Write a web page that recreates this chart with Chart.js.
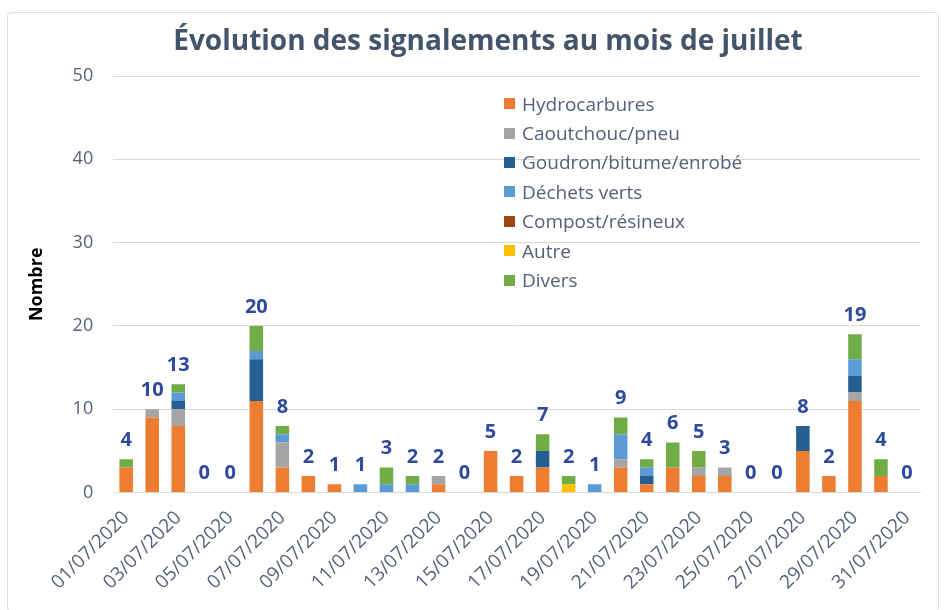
<!DOCTYPE html>
<html>
<head>
<meta charset="utf-8">
<script src="https://cdn.jsdelivr.net/npm/chart.js@4"></script>
<style>
  body { margin: 0; background: #fff; font-family: "Open Sans", sans-serif; }
  #wrap { position: relative; width: 946px; height: 610px; }
  #frame { position: absolute; left: 7px; top: 12px; width: 932px; height: 600px; border: 1px solid #D9DEE6; border-radius: 4px; box-sizing: border-box; }
  #myChart { position: absolute; left: 0; top: 0; }
  #legend { position: absolute; left: 504px; top: 89px; font-size: 19px; color: #56607A; }
  #legend div { height: 29.4px; display: flex; align-items: center; }
  #legend span.box { display: inline-block; width: 11px; height: 11px; margin-right: 7px; }
</style>
</head>
<body>
<div id="wrap">
  <div id="frame"></div>
  <canvas id="myChart" width="946" height="610"></canvas>
  <div id="legend"></div>
</div>
<script>
const dates = ['01/07/2020','02/07/2020','03/07/2020','04/07/2020','05/07/2020','06/07/2020','07/07/2020','08/07/2020',
  '09/07/2020','10/07/2020','11/07/2020','12/07/2020','13/07/2020','14/07/2020','15/07/2020','16/07/2020',
  '17/07/2020','18/07/2020','19/07/2020','20/07/2020','21/07/2020','22/07/2020','23/07/2020','24/07/2020',
  '25/07/2020','26/07/2020','27/07/2020','28/07/2020','29/07/2020','30/07/2020','31/07/2020'];

const hydrocarbures = [3,9,8,0,0,11,3,2,1,0,0,0,1,0,5,2,3,0,0,3,1,3,2,2,0,0,5,2,11,2,0];
const caoutchouc    = [0,1,2,0,0,0,3,0,0,0,0,0,1,0,0,0,0,0,0,1,0,0,1,1,0,0,0,0,1,0,0];
const goudron       = [0,0,1,0,0,5,0,0,0,0,0,0,0,0,0,0,2,0,0,0,1,0,0,0,0,0,3,0,2,0,0];
const dechetsVerts  = [0,0,1,0,0,1,1,0,0,1,1,1,0,0,0,0,0,0,1,3,1,0,0,0,0,0,0,0,2,0,0];
const compost       = [0,0,0,0,0,0,0,0,0,0,0,0,0,0,0,0,0,0,0,0,0,0,0,0,0,0,0,0,0,0,0];
const autre         = [0,0,0,0,0,0,0,0,0,0,0,0,0,0,0,0,0,1,0,0,0,0,0,0,0,0,0,0,0,0,0];
const divers        = [1,0,1,0,0,3,1,0,0,0,2,1,0,0,0,0,2,1,0,2,1,3,2,0,0,0,0,0,3,2,0];

const yTicks = [0, 10, 20, 30, 40, 50];
const chartTitle = 'Évolution des signalements au mois de juillet';

const series = [
  { label: 'Hydrocarbures', data: hydrocarbures, color: '#ED7D31' },
  { label: 'Caoutchouc/pneu', data: caoutchouc, color: '#A5A5A5' },
  { label: 'Goudron/bitume/enrobé', data: goudron, color: '#255E91' },
  { label: 'Déchets verts', data: dechetsVerts, color: '#5B9BD5' },
  { label: 'Compost/résineux', data: compost, color: '#9E480E' },
  { label: 'Autre', data: autre, color: '#FFC000' },
  { label: 'Divers', data: divers, color: '#70AD47' },
];

// titre + totaux au-dessus des barres
const totalsPlugin = {
  id: 'totals',
  afterDatasetsDraw(chart) {
    const ctx = chart.ctx;
    const xs = chart.scales.x, ys = chart.scales.y;
    ctx.save();
    ctx.font = 'bold 20px "Open Sans"';
    ctx.fillStyle = '#2F4A9C';
    ctx.textAlign = 'center';
    ctx.textBaseline = 'middle';
    dates.forEach((d, i) => {
      const total = series.reduce((s, ser) => s + ser.data[i], 0);
      ctx.fillText(String(total), xs.getPixelForValue(i), ys.getPixelForValue(total) - 19);
    });

    ctx.font = 'bold 28px "Open Sans"';
    ctx.fillStyle = '#44546A';
    ctx.textBaseline = 'alphabetic';
    ctx.fillText(chartTitle, 488, 50);
    ctx.restore();
  }
};

const ctx = document.getElementById('myChart').getContext('2d');
new Chart(ctx, {
  type: 'bar',
  data: {
    labels: dates,
    datasets: series.map(s => ({
      label: s.label,
      data: s.data,
      backgroundColor: s.color,
      borderWidth: 0,
      barPercentage: 0.52,
      categoryPercentage: 1,
    })),
  },
  options: {
    responsive: false,
    animation: false,
    layout: { padding: { left: 22, right: 26, top: 76, bottom: 10 } },
    plugins: {
      legend: { display: false },
      tooltip: { enabled: false },
      title: { display: false },
    },
    scales: {
      x: {
        stacked: true,
        grid: { display: false },
        border: { color: '#D9D9D9' },
        ticks: {
          autoSkip: false,
          minRotation: 45,
          maxRotation: 45,
          padding: 6,
          color: '#56607A',
          font: { family: 'Open Sans', size: 19 },
          callback: function (value, index) {
            return index % 2 === 0 ? dates[index] : '';
          },
        },
      },
      y: {
        stacked: true,
        min: 0,
        max: 50,
        afterBuildTicks: axis => { axis.ticks = yTicks.map(v => ({ value: v })); },
        grid: { color: '#D9D9D9', drawTicks: false },
        border: { display: false },
        ticks: {
          color: '#56607A',
          padding: 20,
          font: { family: 'Open Sans', size: 18 },
        },
        title: {
          display: true,
          text: 'Nombre',
          color: '#000',
          font: { family: 'Open Sans', size: 18, weight: 'bold' },
          padding: { bottom: 5 },
        },
      },
    },
  },
  plugins: [totalsPlugin],
});

// légende à l'intérieur du graphique
const legend = document.getElementById('legend');
series.forEach(s => {
  const row = document.createElement('div');
  row.innerHTML = `<span class="box" style="background:${s.color}"></span>${s.label}`;
  legend.appendChild(row);
});
</script>
</body>
</html>
